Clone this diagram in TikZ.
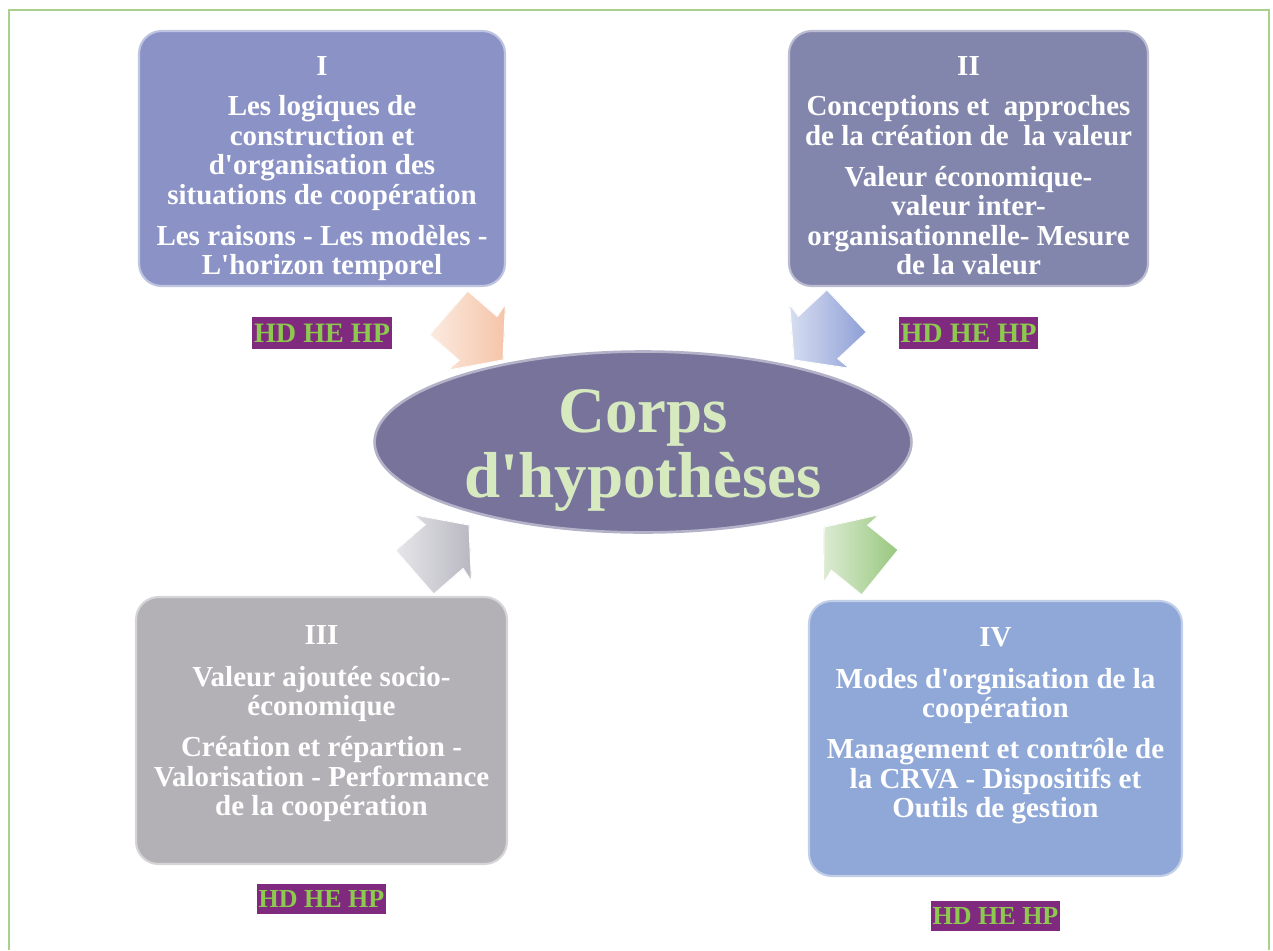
\documentclass[tikz,border=0pt]{standalone}
\usepackage{fontspec}
\setmainfont{Liberation Serif}
\usetikzlibrary{positioning,shapes.geometric}

\definecolor{cadre}{HTML}{A9D18E}
\definecolor{boiteI}{HTML}{8B93C6}
\definecolor{boiteII}{HTML}{8386AC}
\definecolor{boiteIII}{HTML}{B3B1B6}
\definecolor{boiteIV}{HTML}{8FA8D7}
\definecolor{corpsfond}{HTML}{77739B}
\definecolor{corpstexte}{HTML}{D6E9BF}
\definecolor{violet}{HTML}{7F2A7E}
\definecolor{vertHD}{HTML}{8DC94E}
\definecolor{peche}{HTML}{F5C4A8}
\definecolor{bleu}{HTML}{8D9FD6}
\definecolor{gris}{HTML}{B9B8C2}
\definecolor{vert}{HTML}{98C77E}

\newcommand\apo{\textquotesingle}

\tikzset{
	boite/.style={draw=#1!55!white, line width=1.2pt, fill=#1, rounded corners=0.45cm},
	texte/.style={align=center, text=white, inner sep=0pt, font=\bfseries\fontsize{16.5}{16.8}\selectfont},
	etiquette/.style={fill=violet, text=vertHD, inner xsep=1pt, inner ysep=0pt, minimum height=0.64cm, font=\bfseries\fontsize{16}{18}\selectfont},
	fleche/.pic={
		\filldraw[draw=white, line width=0.6pt, left color=#1!35!white, right color=#1]
			(0,0) -- (-35,44) -- (-33,29) -- (-72,29) -- (-72,-29) -- (-33,-29) -- (-35,-44) -- cycle;
	}
}

\begin{document}
\begin{tikzpicture}[x=0.02cm, y=-0.02cm]
	\useasboundingbox (0,0) rectangle (1273,950);
	\draw[cadre, line width=1.5pt] (9,950) -- (9,10) -- (1269,10) -- (1269,950);

	\node[boite=boiteI, minimum width=7.32cm, minimum height=5.1cm] (b1) at (322,158.5) {};
	\node[boite=boiteII, minimum width=7.18cm, minimum height=5.1cm] (b2) at (968.5,158.5) {};
	\node[boite=boiteIII, minimum width=7.42cm, minimum height=5.34cm] (b3) at (321.5,730.5) {};
	\node[boite=boiteIV, minimum width=7.46cm, minimum height=5.5cm] (b4) at (995.5,738.5) {};

	\node[texte, below=0.53cm of b1.north] (t1) {I\\[6pt]Les logiques de\\construction et\\d\apo organisation des\\situations de coopération\\[6.5pt]Les raisons - Les modèles -\\L\apo horizon temporel};
	\node[texte, below=0.53cm of b2.north] (t2) {II\\[6pt]Conceptions et\ \ approches\\de la création de\ \ la valeur\\[6.5pt]Valeur économique-\\valeur inter-\\organisationnelle- Mesure\\de la valeur};
	\node[texte, below=0.58cm of b3.north] (t3) {III\\[7pt]Valeur ajoutée socio-\\économique\\[6.5pt]Création et répartion -\\Valorisation - Performance\\de la coopération};
	\node[texte, below=0.54cm of b4.north] (t4) {IV\\[7pt]Modes d\apo orgnisation de la\\coopération\\[6.5pt]Management et contrôle de\\la CRVA - Dispositifs et\\Outils de gestion};

	\node[etiquette, below=0.6cm of b1] (h1) {HD HE HP};
	\node[etiquette, below=0.6cm of b2] (h2) {HD HE HP};
	\node[etiquette, below=0.38cm of b3, font=\bfseries\fontsize{14.8}{17}\selectfont, minimum height=0.6cm] (h3) {HD HE HP};
	\node[etiquette, below=0.48cm of b4, font=\bfseries\fontsize{14.8}{17}\selectfont, minimum height=0.6cm] (h4) {HD HE HP};

	\node[ellipse, fill=corpsfond, draw=corpsfond!55!white, line width=1.5pt, minimum width=10.74cm, minimum height=3.62cm] (corps) at (643,442) {};
	\node[align=center, inner sep=0pt, text=corpstexte, font=\bfseries\fontsize{37}{37}\selectfont] (titre) at (643,450) {Corps\\d\apo hypothèses};

	\foreach \x/\y/\a/\c in {503/360/-41/peche, 794/360/-137/bleu, 469/525/41/gris, 824/527/141/vert}
		\pic[rotate=\a] at (\x,\y) {fleche=\c};
\end{tikzpicture}
\end{document}
